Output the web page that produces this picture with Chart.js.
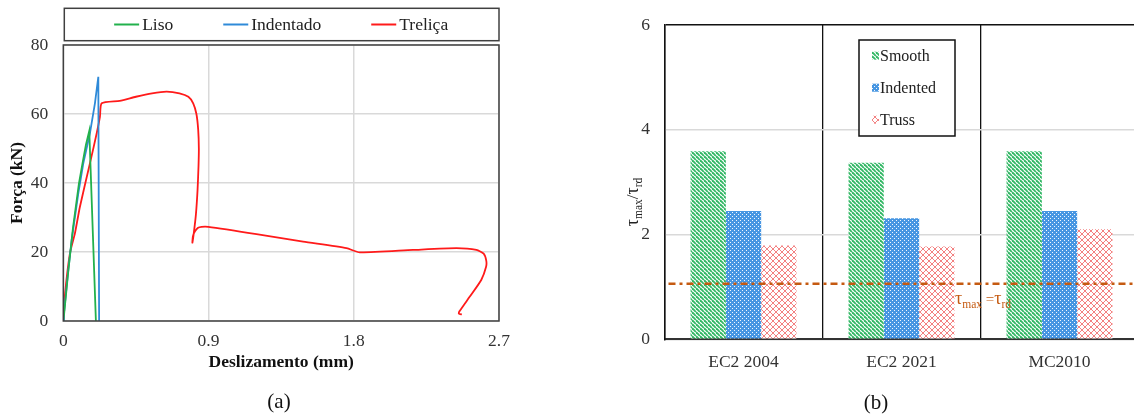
<!DOCTYPE html>
<html>
<head>
<meta charset="utf-8">
<script src="https://cdn.jsdelivr.net/npm/chart.js@4.4.1/dist/chart.umd.min.js"></script>
<style>
  html, body { margin: 0; padding: 0; background: #fff; width: 1134px; height: 414px; overflow: hidden; }
  #wrapA { position: absolute; left: 0; top: 0; width: 520px; height: 414px; }
  #wrapB { position: absolute; left: 560px; top: 0; width: 574px; height: 414px; overflow: hidden; }
  canvas { display: block; }
</style>
</head>
<body>
<div id="wrapA"><canvas id="chartA" width="520" height="414"></canvas></div>
<div id="wrapB"><canvas id="chartB" width="590" height="414"></canvas></div>
<script>
// ---------- (a) Força x Deslizamento ----------
const lisoX = [0, 0.005, 0.03, 0.06, 0.097, 0.12, 0.14, 0.161, 0.202];
const lisoY = [0, 2, 14, 27, 39.9, 46, 51, 55.1, 0];

const indentadoX = [0, 0.004, 0.031, 0.052, 0.093, 0.124, 0.165, 0.196, 0.217, 0.222];
const indentadoY = [0, 2.2, 14.8, 23.5, 37, 45.7, 54.4, 63.1, 70.8, 0];

const trelicaX = [0, 0.011, 0.041, 0.072, 0.103, 0.165, 0.207, 0.227, 0.238, 0.35, 0.45, 0.55, 0.64, 0.72,
  0.775, 0.805, 0.825, 0.836, 0.84, 0.838, 0.832, 0.822, 0.81, 0.8, 0.803, 0.815, 0.835, 0.857, 0.898,
  1.197, 1.486, 1.755, 1.837, 2.167, 2.436, 2.56, 2.605, 2.621, 2.62, 2.59, 2.518, 2.455, 2.452, 2.47];
const trelicaY = [0, 8, 19.6, 25.4, 33.1, 45.7, 54.4, 59.2, 63.1, 63.8, 65, 66, 66.5, 66,
  65, 63.1, 60, 55.4, 50, 45, 38, 31, 26, 22.7, 24.5, 25.9, 27, 27.3, 27.3,
  25.2, 23, 21.1, 19.9, 20.6, 21.1, 20.6, 19.5, 17.5, 15.7, 11.9, 7, 2.8, 2.1, 1.9];

const slipTicks = [0, 0.9, 1.8, 2.7];
const forceTicks = [0, 20, 40, 60, 80];

// ---------- (b) τmax/τrd ----------
const codes = ['EC2 2004', 'EC2 2021', 'MC2010'];
const smoothVals = [3.59, 3.37, 3.59];
const indentedVals = [2.45, 2.31, 2.45];
const trussVals = [1.79, 1.77, 2.10];
const ratioTicks = [0, 2, 4, 6];
const limitRatio = 1.06;

const SERIF = "'Liberation Serif', 'Times New Roman', serif";

function toPoints(xs, ys) {
  return xs.map(function(x, i) { return { x: x, y: ys[i] }; });
}

// preenchimentos com textura (hachuras)
function makePattern(kind) {
  const c = document.createElement('canvas');
  const g = c.getContext('2d');
  if (kind === 'smooth') {
    c.width = 4; c.height = 4;
    g.fillStyle = '#ffffff'; g.fillRect(0, 0, 4, 4);
    g.strokeStyle = '#34b866'; g.lineWidth = 1.9;
    [-4, 0, 4].forEach(function(k) { g.beginPath(); g.moveTo(k, 0); g.lineTo(k + 4, 4); g.stroke(); });
  } else if (kind === 'indented') {
    c.width = 4; c.height = 4;
    g.fillStyle = '#4796e2'; g.fillRect(0, 0, 4, 4);
    g.fillStyle = '#f2f8fe'; g.fillRect(0, 0, 1, 1); g.fillRect(2, 2, 1, 1);
  } else {
    c.width = 6; c.height = 6;
    g.fillStyle = '#ffffff'; g.fillRect(0, 0, 6, 6);
    g.strokeStyle = 'rgba(238,80,80,0.8)'; g.lineWidth = 0.9;
    g.beginPath(); g.moveTo(0, 0); g.lineTo(6, 6); g.moveTo(6, 0); g.lineTo(0, 6); g.stroke();
  }
  return g.createPattern(c, 'repeat');
}

// texto com subscritos: partes [texto, tamanho, deslocamento]
function drawRich(ctx, parts, x, y, color, center) {
  let total = 0;
  parts.forEach(function(p) { ctx.font = p[1] + 'px ' + SERIF; total += ctx.measureText(p[0]).width; });
  let cx = center ? x - total / 2 : x;
  ctx.fillStyle = color;
  ctx.textBaseline = 'alphabetic';
  ctx.textAlign = 'left';
  parts.forEach(function(p) {
    ctx.font = p[1] + 'px ' + SERIF;
    ctx.fillText(p[0], cx, y + p[2]);
    cx += ctx.measureText(p[0]).width;
  });
}

// ==========================================================
// Gráfico (a)
// ==========================================================
const frameA = {
  id: 'frameA',
  afterDraw: function(chart) {
    const ctx = chart.ctx;
    const a = chart.chartArea;
    ctx.save();
    ctx.strokeStyle = '#404040';
    ctx.lineWidth = 1.5;
    ctx.strokeRect(a.left, a.top, a.right - a.left, a.bottom - a.top);

    // legenda em caixa acima do gráfico
    const boxTop = 8.3, boxBottom = 40.7;
    ctx.strokeRect(a.left + 1, boxTop, a.right - a.left - 1, boxBottom - boxTop);
    ctx.font = '17.5px ' + SERIF;
    const seg = 25, gap = 3, between = 50;
    const items = chart.data.datasets.map(function(d) {
      return { text: d.label, color: d.borderColor, w: seg + gap + ctx.measureText(d.label).width };
    });
    let total = items.reduce(function(s, it) { return s + it.w; }, 0) + between * (items.length - 1);
    let x = (a.left + a.right) / 2 - total / 2;
    const yMid = (boxTop + boxBottom) / 2;
    items.forEach(function(it) {
      ctx.strokeStyle = it.color;
      ctx.lineWidth = 2;
      ctx.beginPath(); ctx.moveTo(x, yMid); ctx.lineTo(x + seg, yMid); ctx.stroke();
      ctx.fillStyle = '#222';
      ctx.textBaseline = 'middle';
      ctx.textAlign = 'left';
      ctx.fillText(it.text, x + seg + gap, yMid + 1);
      x += it.w + between;
    });

    ctx.font = '21px ' + SERIF;
    ctx.textAlign = 'center';
    ctx.fillStyle = '#111';
    ctx.fillText('(a)', 279, 402);
    ctx.restore();
  }
};

new Chart(document.getElementById('chartA'), {
  type: 'scatter',
  data: {
    datasets: [
      { label: 'Liso', data: toPoints(lisoX, lisoY), borderColor: '#22b14c', showLine: true },
      { label: 'Indentado', data: toPoints(indentadoX, indentadoY), borderColor: '#2f8ad8', showLine: true },
      { label: 'Treliça', data: toPoints(trelicaX, trelicaY), borderColor: '#ff1a1a', showLine: true, tension: 0.2 }
    ]
  },
  options: {
    responsive: false,
    animation: false,
    layout: { padding: { top: 45, right: 21, bottom: 0, left: 0 } },
    plugins: { legend: { display: false }, tooltip: { enabled: false } },
    elements: { point: { radius: 0 }, line: { borderWidth: 1.8, tension: 0, fill: false } },
    scales: {
      x: {
        type: 'linear', min: 0, max: 2.7,
        afterBuildTicks: function(s) { s.ticks = slipTicks.map(function(v) { return { value: v }; }); },
        afterFit: function(s) { s.height = 93; },
        grid: { color: '#d9d9d9', lineWidth: 1.5, drawTicks: false },
        border: { display: false },
        ticks: { padding: 10, color: '#333', font: { family: SERIF, size: 17.5 }, callback: function(v) { return String(v); } },
        title: { display: true, text: 'Deslizamento (mm)', color: '#111', font: { family: SERIF, size: 17.5, weight: 'bold' }, padding: { top: 0, bottom: 41 } }
      },
      y: {
        type: 'linear', min: 0, max: 80,
        afterBuildTicks: function(s) { s.ticks = forceTicks.map(function(v) { return { value: v }; }); },
        afterFit: function(s) { s.width = 63.3; },
        grid: { color: '#d9d9d9', lineWidth: 1.5, drawTicks: false },
        border: { display: false },
        ticks: { padding: 15, color: '#333', font: { family: SERIF, size: 17.5 } },
        title: { display: true, text: 'Força (kN)', color: '#111', font: { family: SERIF, size: 17.5, weight: 'bold' }, padding: { top: 7, bottom: 0 } }
      }
    }
  },
  plugins: [frameA]
});

// ==========================================================
// Gráfico (b)
// ==========================================================
const smoothFill = makePattern('smooth');
const indentedFill = makePattern('indented');
const trussFill = makePattern('truss');

const extrasB = {
  id: 'extrasB',
  afterDatasetsDraw: function(chart) {
    const ctx = chart.ctx;
    const a = chart.chartArea;
    const y = chart.scales.y.getPixelForValue(limitRatio);
    ctx.save();
    ctx.strokeStyle = '#c55a11';
    ctx.lineWidth = 2.4;
    ctx.setLineDash([7, 4, 3, 4]);
    ctx.beginPath(); ctx.moveTo(a.left + 4, y); ctx.lineTo(a.right, y); ctx.stroke();
    ctx.setLineDash([]);
    drawRich(ctx, [['τ', 18, 0], ['max', 11.5, 4], [' =', 15, 0], ['τ', 18, 0], ['rd', 11.5, 4]], 395, y + 20, '#c55a11', false);
    ctx.restore();
  },
  afterDraw: function(chart) {
    const ctx = chart.ctx;
    ctx.save();
    // legenda interna
    const bx = 299, by = 40, bw = 96, bh = 96;
    ctx.fillStyle = '#fff';
    ctx.fillRect(bx, by, bw, bh);
    ctx.strokeStyle = '#111';
    ctx.lineWidth = 1.5;
    ctx.strokeRect(bx, by, bw, bh);
    chart.data.datasets.forEach(function(d, i) {
      const yc = 55.7 + i * 32;
      ctx.fillStyle = d.backgroundColor;
      ctx.fillRect(312, yc - 4, 7, 8);
      ctx.fillStyle = '#222';
      ctx.font = '16px ' + SERIF;
      ctx.textBaseline = 'middle';
      ctx.textAlign = 'left';
      ctx.fillText(d.label, 320, yc + 1);
    });

    // título do eixo y com subscritos
    ctx.translate(73, 202);
    ctx.rotate(-Math.PI / 2);
    drawRich(ctx, [['τ', 18, 0], ['max', 11.5, 4], ['/', 17, 0], ['τ', 18, 0], ['rd', 11.5, 4]], 0, 5, '#222', true);
    ctx.setTransform(1, 0, 0, 1, 0, 0);

    ctx.font = '21px ' + SERIF;
    ctx.textAlign = 'center';
    ctx.textBaseline = 'alphabetic';
    ctx.fillStyle = '#111';
    ctx.fillText('(b)', 316, 409);
    ctx.restore();
  }
};

new Chart(document.getElementById('chartB'), {
  type: 'bar',
  data: {
    labels: codes,
    datasets: [
      { label: 'Smooth', data: smoothVals, backgroundColor: smoothFill },
      { label: 'Indented', data: indentedVals, backgroundColor: indentedFill },
      { label: 'Truss', data: trussVals, backgroundColor: trussFill }
    ]
  },
  options: {
    responsive: false,
    animation: false,
    layout: { padding: { top: 20, right: 11.5, bottom: 0, left: 0 } },
    plugins: { legend: { display: false }, tooltip: { enabled: false } },
    datasets: { bar: { barPercentage: 1, categoryPercentage: 0.67, borderWidth: 0 } },
    scales: {
      x: {
        afterFit: function(s) { s.height = 74.7; },
        grid: { offset: true, color: '#111', lineWidth: 1.3, drawTicks: false },
        border: { color: '#333', width: 2 },
        ticks: { padding: 13, color: '#333', font: { family: SERIF, size: 17.5 } }
      },
      y: {
        min: 0, max: 6,
        afterBuildTicks: function(s) { s.ticks = ratioTicks.map(function(v) { return { value: v }; }); },
        afterFit: function(s) { s.width = 104.5; },
        grid: {
          drawTicks: false,
          lineWidth: 1.5,
          color: function(c) { return c.tick && c.tick.value === 6 ? '#111' : '#d9d9d9'; }
        },
        border: { color: '#111', width: 1.5 },
        ticks: { padding: 14.5, color: '#333', font: { family: SERIF, size: 17.5 } }
      }
    }
  },
  plugins: [extrasB]
});
</script>
</body>
</html>
